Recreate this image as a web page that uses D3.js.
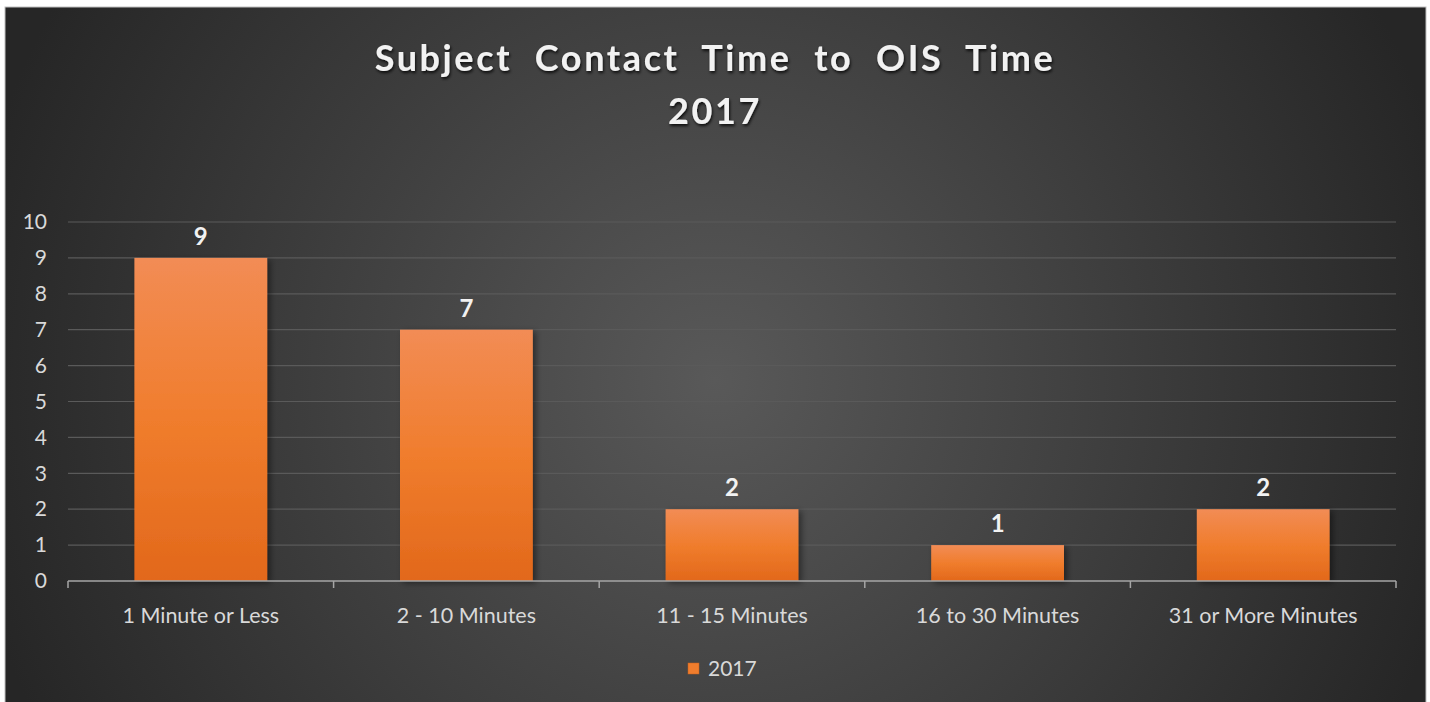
<!DOCTYPE html>
<html>
<head>
<meta charset="utf-8">
<script src="https://cdn.jsdelivr.net/npm/d3@7"></script>
<style>
  html, body { margin: 0; padding: 0; background: #ffffff; }
  svg { display: block; }
</style>
</head>
<body>
<div id="chart"></div>
<script>
const categories = ['1 Minute or Less', '2 - 10 Minutes', '11 -  15 Minutes', '16 to 30 Minutes', '31 or More Minutes'];
const values2017 = [9, 7, 2, 1, 2];
const yTicks = [0, 1, 2, 3, 4, 5, 6, 7, 8, 9, 10];
const titleLines = ['Subject  Contact  Time  to  OIS  Time', '2017'];
const seriesName = '2017';

const W = 1430, H = 702;
const font = 'Lato, "Open Sans", sans-serif';

const svg = d3.select('#chart').append('svg')
    .attr('width', W)
    .attr('height', H);

const defs = svg.append('defs');

// Background radial gradient
const bg = defs.append('radialGradient')
    .attr('id', 'bg')
    .attr('gradientUnits', 'userSpaceOnUse')
    .attr('cx', 715).attr('cy', 380).attr('r', 760);
bg.append('stop').attr('offset', '0%').attr('stop-color', '#595959');
bg.append('stop').attr('offset', '100%').attr('stop-color', '#262626');

// Bar gradient
const bar = defs.append('linearGradient')
    .attr('id', 'bar')
    .attr('x1', 0).attr('y1', 0).attr('x2', 0).attr('y2', 1);
bar.append('stop').attr('offset', '0%').attr('stop-color', '#f28c55');
bar.append('stop').attr('offset', '50%').attr('stop-color', '#f07d2d');
bar.append('stop').attr('offset', '100%').attr('stop-color', '#e2681b');

const shadow = defs.append('filter').attr('id', 'shadow')
    .attr('x', '-20%').attr('y', '-20%').attr('width', '140%').attr('height', '140%');
shadow.append('feDropShadow')
    .attr('dx', 3).attr('dy', 2).attr('stdDeviation', 3)
    .attr('flood-color', '#000').attr('flood-opacity', 0.45);

const textShadow = defs.append('filter').attr('id', 'tshadow');
textShadow.append('feDropShadow')
    .attr('dx', 1).attr('dy', 2).attr('stdDeviation', 1.5)
    .attr('flood-color', '#000').attr('flood-opacity', 0.8);

// Chart background with white page margin
svg.append('rect')
    .attr('x', 5).attr('y', 7)
    .attr('width', 1421).attr('height', 700)
    .attr('fill', 'url(#bg)')
    .attr('stroke', '#bfbfbf')
    .attr('stroke-width', 1);

// Title
const title = svg.append('text')
    .attr('text-anchor', 'middle')
    .attr('font-family', font)
    .attr('font-weight', 'bold')
    .attr('font-size', 36)
    .attr('fill', '#f2f2f2')
    .attr('letter-spacing', 2.6)
    .attr('filter', 'url(#tshadow)')
    .style('white-space', 'pre');
titleLines.forEach((t, i) => {
    title.append('tspan')
        .attr('x', 715)
        .attr('y', 71 + i * 53)
        .text(t);
});

// Scales
const margin = { left: 68, right: 1396, top: 222, bottom: 581 };
const x = d3.scaleBand()
    .domain(categories)
    .range([margin.left, margin.right])
    .paddingInner(0.5)
    .paddingOuter(0.25);
const y = d3.scaleLinear()
    .domain([0, 10])
    .range([margin.bottom, margin.top]);

// Gridlines
svg.append('g')
    .selectAll('line')
    .data(yTicks.filter(d => d > 0))
    .enter()
    .append('line')
    .attr('x1', margin.left).attr('x2', margin.right)
    .attr('y1', d => y(d)).attr('y2', d => y(d))
    .attr('stroke', '#5a5a5a')
    .attr('stroke-width', 1.2);

// Y axis labels
const yAxis = d3.axisLeft(y).tickValues(yTicks).tickSize(0).tickPadding(0);
const gy = svg.append('g')
    .attr('transform', `translate(${margin.left - 21},0)`)
    .call(yAxis);
gy.select('.domain').remove();
gy.selectAll('text')
    .attr('font-family', font)
    .attr('font-size', 21)
    .attr('fill', '#d9d9d9');

// Bars
svg.append('g')
    .selectAll('rect')
    .data(values2017)
    .enter()
    .append('rect')
    .attr('x', (d, i) => x(categories[i]))
    .attr('y', d => y(d))
    .attr('width', x.bandwidth())
    .attr('height', d => y(0) - y(d))
    .attr('fill', 'url(#bar)')
    .attr('filter', 'url(#shadow)');

// Value labels
svg.append('g')
    .selectAll('text')
    .data(values2017)
    .enter()
    .append('text')
    .attr('x', (d, i) => x(categories[i]) + x.bandwidth() / 2)
    .attr('y', d => y(d) - 13)
    .attr('text-anchor', 'middle')
    .attr('font-family', font)
    .attr('font-weight', 'bold')
    .attr('font-size', 24)
    .attr('fill', '#f2f2f2')
    .text(d => d);

// X axis
const step = (margin.right - margin.left) / categories.length;
const xAxis = d3.axisBottom(x).tickSize(0).tickPadding(27);
const gx = svg.append('g')
    .attr('transform', `translate(0,${margin.bottom})`)
    .call(xAxis);
gx.select('.domain')
    .attr('stroke', '#a6a6a6')
    .attr('stroke-width', 1.5)
    .attr('d', `M${margin.left},0H${margin.right}`);
gx.selectAll('text')
    .attr('font-family', font)
    .attr('font-size', 21.5)
    .attr('fill', '#d9d9d9');
gx.append('g')
    .selectAll('line')
    .data(d3.range(categories.length + 1))
    .enter()
    .append('line')
    .attr('x1', i => margin.left + i * step)
    .attr('x2', i => margin.left + i * step)
    .attr('y1', 0).attr('y2', 7)
    .attr('stroke', '#a6a6a6')
    .attr('stroke-width', 1.5);

// Legend
const legend = svg.append('g').attr('transform', 'translate(688,663)');
legend.append('rect')
    .attr('width', 11).attr('height', 11)
    .attr('fill', '#f07d2d')
    .attr('stroke', '#c8621e').attr('stroke-width', 0.5);
legend.append('text')
    .attr('x', 20).attr('y', 13)
    .attr('font-family', font)
    .attr('font-size', 21)
    .attr('fill', '#d9d9d9')
    .text(seriesName);
</script>
</body>
</html>
